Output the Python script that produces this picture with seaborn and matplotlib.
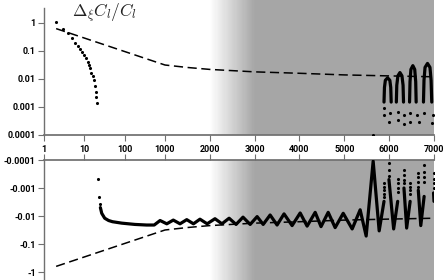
import matplotlib
matplotlib.use("Agg")
import matplotlib.pyplot as plt
import numpy as np
import pandas as pd
import seaborn as sns

# --- values ---
low_l = list(range(2, 22))
low_val = [1.05, 0.61, 0.43, 0.28, 0.20, 0.15, 0.12, 0.095, 0.072, 0.055,
           0.041, 0.032, 0.024, 0.017, 0.013, 0.0092, 0.0058, 0.0035, 0.0023, 0.00135]

first_neg_l = [22, 23, 24]
first_neg_val = [-0.00047, -0.0021, -0.0038]

# main negative band, split in segments where the curve goes positive
band_seg = [0] * 42 + [1] * 3 + [2] * 3 + [3] * 3 + [4] * 2
band_l = [25, 27, 32, 40, 50, 85, 180, 350, 540, 755,
          1040, 1185, 1335, 1485, 1635, 1780, 1940, 2115, 2270, 2430,
          2585, 2740, 2900, 3055, 3190, 3345, 3500, 3655, 3835, 4015,
          4170, 4350, 4480, 4640, 4795, 4975, 5175, 5353, 5487, 5643,
          5777, 5885,
          5995, 6100, 6190,
          6330, 6390, 6468,
          6650, 6705, 6780,
          6990, 7000]
band_val = [-0.005, -0.008, -0.012, -0.0145, -0.016, -0.018, -0.020, -0.021, -0.021, -0.0145,
            -0.019, -0.014, -0.019, -0.0135, -0.019, -0.013, -0.019, -0.0125, -0.019, -0.012,
            -0.020, -0.011, -0.020, -0.0105, -0.020, -0.0092, -0.021, -0.0084, -0.022, -0.0078,
            -0.023, -0.0074, -0.024, -0.0074, -0.026, -0.008, -0.029, -0.006, -0.052, -0.00011,
            -0.034, -0.003,
            -0.0005, -0.029, -0.003,
            -0.001, -0.027, -0.003,
            -0.0012, -0.022, -0.002,
            -0.0015, -0.003]

# sparse dots near the tips of the spikes (bottom panel)
spike_dot_l = [5895, 5895, 5895, 5895, 5895,
               5993, 5993, 5993,
               6194, 6194, 6194, 6194,
               6335, 6335, 6335, 6335,
               6470, 6470, 6470, 6470,
               6650, 6650, 6650, 6650,
               6780, 6780, 6780, 6780,
               6990, 6990, 6990, 6990]
spike_dot_val = [-0.00068, -0.00091, -0.0012, -0.0016, -0.0021,
                 -0.00013, -0.00023, -0.00037,
                 -0.00046, -0.00068, -0.001, -0.0014,
                 -0.00023, -0.00035, -0.00052, -0.00068,
                 -0.00068, -0.00091, -0.0012, -0.0016,
                 -0.00029, -0.0004, -0.0006, -0.00093,
                 -0.00015, -0.00026, -0.0004, -0.0006,
                 -0.0003, -0.00046, -0.00068, -0.001]

# positive arcs at high l (top panel)
arc_seg = [0] * 7 + [1] * 7 + [2] * 7 + [3] * 7
arc_l = [5885, 5895, 5915, 5965, 6015, 6035, 6045,
         6160, 6170, 6195, 6240, 6285, 6310, 6320,
         6455, 6465, 6485, 6528, 6570, 6592, 6602,
         6765, 6777, 6800, 6855, 6910, 6935, 6950]
arc_val = [0.0015, 0.005, 0.009, 0.011, 0.009, 0.005, 0.0015,
           0.0015, 0.006, 0.013, 0.017, 0.013, 0.006, 0.0015,
           0.0015, 0.008, 0.022, 0.030, 0.022, 0.008, 0.0015,
           0.0015, 0.009, 0.026, 0.036, 0.026, 0.009, 0.0015]

arc_dot_l = [5636, 5888, 5890, 6007, 6022, 6186, 6190, 6320, 6320,
             6470, 6472, 6655, 6620, 6950, 6970, 6766]
arc_dot_val = [0.0001, 0.00052, 0.00089, 0.0003, 0.0006, 0.00035, 0.00068, 0.00025, 0.00052,
               0.0003, 0.0006, 0.00028, 0.00052, 0.00026, 0.0005, 0.0006]

# cosmic-variance style dashed curve
cv_l = [2, 1000, 1500, 2000, 3000, 4000, 5000, 6000, 7000]
cv_val = [0.63, 0.0316, 0.0258, 0.022, 0.018, 0.016, 0.014, 0.0129, 0.012]

x_ticks = [1, 10, 100, 1000, 2000, 3000, 4000, 5000, 6000, 7000]
x_labels = ["1", "10", "100", "1000", "2000", "3000", "4000", "5000", "6000", "7000"]
top_yticks = [1, 0.1, 0.01, 0.001, 0.0001]
top_ylabels = ["1", "0.1", "0.01", "0.001", "0.0001"]
bot_yticks = [-0.0001, -0.001, -0.01, -0.1, -1]
bot_ylabels = ["-0.0001", "-0.001", "-0.01", "-0.1", "-1"]

GRAY = "#a6a6a6"
SPINE = "#707070"
LIN = 44.8 / 40.3  # width of 1000 units of l vs one decade


def fwd_x(x):
    x = np.asarray(x, dtype=float)
    lo = np.log10(np.clip(x, 1e-6, None))
    return np.where(x <= 1000, lo, 3 + LIN * (x - 1000) / 1000)


def inv_x(t):
    t = np.asarray(t, dtype=float)
    return np.where(t <= 3, 10 ** np.clip(t, -20, 3), 1000 + (t - 3) / LIN * 1000)


def fwd_neg(y):
    y = np.asarray(y, dtype=float)
    return -np.log10(np.clip(-y, 1e-12, None))


def inv_neg(t):
    t = np.asarray(t, dtype=float)
    return -(10 ** (-np.clip(t, -20, 20)))


sns.set_theme(style="white")
plt.rcParams["font.family"] = ["Roboto", "DejaVu Sans"]
plt.rcParams["mathtext.fontset"] = "cm"

fig = plt.figure(figsize=(4.45, 2.8), dpi=100)
W, H = 445, 280
ax_top = fig.add_axes([44 / W, (H - 135) / H, 390 / W, 135 / H])
ax_bot = fig.add_axes([44 / W, 0, 390 / W, 120 / H])

for ax in (ax_top, ax_bot):
    ax.set_xscale("function", functions=(fwd_x, inv_x))
    ax.set_facecolor("none")
    # white -> gray ramp between 2000 and 3000, solid gray after
    edges = np.linspace(2000, 3000, 41)
    for i in range(40):
        shade = 1 - (1 - 0.651) * (i + 0.5) / 40
        ax.axvspan(edges[i], edges[i + 1], color=str(shade), lw=0, zorder=0)
    ax.axvspan(3000, 7000, color=GRAY, lw=0, zorder=0)

ax_top.set_yscale("log")
ax_bot.set_yscale("function", functions=(fwd_neg, inv_neg))

dash = (0, (6, 3))
dot_kw = dict(color="black", s=5, linewidth=0, zorder=3, legend=False)
line_kw = dict(color="black", lw=2.3, estimator=None, sort=False, zorder=3, legend=False)

# top panel
sns.lineplot(x=cv_l, y=cv_val, ax=ax_top, color="black", lw=1.1, linestyle=dash, zorder=2)
sns.scatterplot(x=low_l, y=low_val, ax=ax_top, **dot_kw)
arcs = pd.DataFrame({"l": arc_l, "v": arc_val, "seg": arc_seg})
sns.lineplot(data=arcs, x="l", y="v", units="seg", ax=ax_top, **line_kw)
sns.scatterplot(x=arc_dot_l, y=arc_dot_val, ax=ax_top, **dot_kw)

# bottom panel
sns.lineplot(x=cv_l, y=[-v for v in cv_val], ax=ax_bot, color="black", lw=1.1, linestyle=dash, zorder=2)
band = pd.DataFrame({"l": band_l, "v": band_val, "seg": band_seg})
sns.lineplot(data=band, x="l", y="v", units="seg", ax=ax_bot, **line_kw)
sns.scatterplot(x=first_neg_l, y=first_neg_val, ax=ax_bot, **dot_kw)
sns.scatterplot(x=spike_dot_l, y=spike_dot_val, ax=ax_bot, **dot_kw)

top_hi = 10 ** (135 / 28 - 4)
ax_top.set_xlim(1, 7000)
ax_top.set_ylim(1e-4, top_hi)
ax_bot.set_xlim(1, 7000)
ax_bot.set_ylim(-10 ** (8 / 28), -1e-4)

tick_font = dict(fontsize=6.5, color="black", fontweight="bold")
ax_top.set_xticks(x_ticks)
ax_top.set_xticklabels(x_labels, **tick_font)
ax_top.set_yticks(top_yticks)
ax_top.set_yticklabels(top_ylabels, **tick_font)
ax_top.minorticks_off()
ax_bot.set_xticks(x_ticks)
ax_bot.set_xticklabels([])
ax_bot.set_yticks(bot_yticks)
ax_bot.set_yticklabels(bot_ylabels, **tick_font)
ax_bot.minorticks_off()

for ax in (ax_top, ax_bot):
    ax.set_xlabel("")
    ax.set_ylabel("")
    for s in ax.spines.values():
        s.set_visible(False)
    ax.spines["left"].set_visible(True)
    ax.spines["left"].set_color(SPINE)
    ax.spines["left"].set_linewidth(1.0)
    ax.tick_params(axis="both", which="major", length=4, width=0.8, color=SPINE, pad=2,
                   direction="out")

ax_top.spines["bottom"].set_visible(True)
ax_top.spines["bottom"].set_color(SPINE)
ax_top.spines["left"].set_bounds(1e-4, 10 ** (127 / 28 - 4))
ax_top.tick_params(axis="x", bottom=True, top=False, pad=3)
ax_top.tick_params(axis="y", left=True)

ax_bot.spines["top"].set_visible(True)
ax_bot.spines["top"].set_color(SPINE)
ax_bot.tick_params(axis="x", bottom=False, top=True, labelbottom=False, labeltop=False)
ax_bot.tick_params(axis="y", left=True)

fig.text(72 / W, 1 - 13 / H, r"$\Delta_\xi C_l/C_l$", fontsize=12.5, va="center", ha="left",
         color="#222222")

fig.savefig("out.png", dpi=100)
